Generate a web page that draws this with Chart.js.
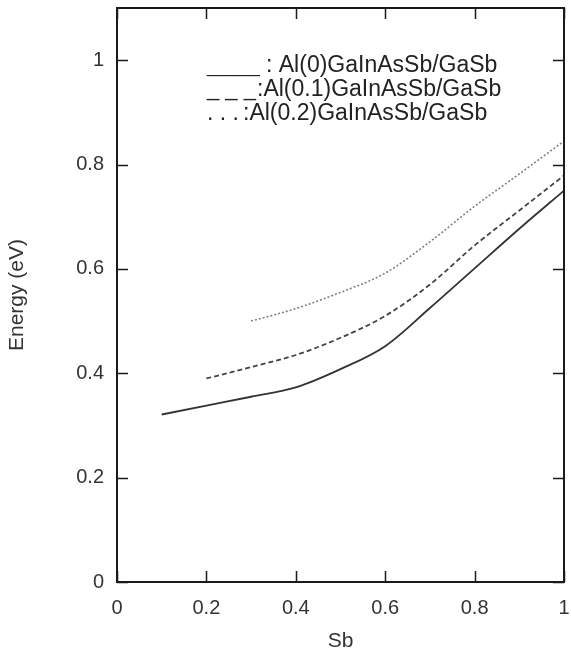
<!DOCTYPE html>
<html>
<head>
<meta charset="utf-8">
<script src="https://cdn.jsdelivr.net/npm/chart.js@4/dist/chart.umd.min.js"></script>
<style>
  html, body { margin: 0; padding: 0; background: #ffffff; }
  #wrap { width: 571px; height: 654px; }
</style>
</head>
<body>
<div id="wrap"><canvas id="c" width="571" height="654"></canvas></div>
<script>
// ---- data ----
const xTicks = [0, 0.2, 0.4, 0.6, 0.8, 1];
const yTicks = [0, 0.2, 0.4, 0.6, 0.8, 1];

const al0X = [0.1, 0.2, 0.3, 0.4, 0.5, 0.6, 0.7, 0.8, 0.9, 1.0];
const al0Y = [0.321, 0.338, 0.355, 0.373, 0.408, 0.452, 0.525, 0.601, 0.677, 0.750];

const al01X = [0.2, 0.3, 0.4, 0.5, 0.6, 0.7, 0.8, 0.9, 1.0];
const al01Y = [0.390, 0.412, 0.435, 0.468, 0.510, 0.570, 0.645, 0.712, 0.779];

const al02X = [0.3, 0.4, 0.5, 0.6, 0.7, 0.8, 0.9, 1.0];
const al02Y = [0.500, 0.524, 0.555, 0.592, 0.652, 0.720, 0.782, 0.845];

const legendMarkers = ["_____", "_ _ _", ". . ."];
const legendNames = [": Al(0)GaInAsSb/GaSb", ":Al(0.1)GaInAsSb/GaSb", ":Al(0.2)GaInAsSb/GaSb"];
const xTitle = "Sb";
const yTitle = "Energy (eV)";

function pts(xs, ys) { return xs.map((x, i) => ({ x: x, y: ys[i] })); }

const FONT = "'Liberation Sans', Arial, Helvetica, sans-serif";

const framePlugin = {
  id: 'frame',
  afterDraw(chart) {
    const ctx = chart.ctx;
    const a = chart.chartArea;
    const xs = chart.scales.x, ys = chart.scales.y;
    const tl = 11;
    ctx.save();
    ctx.strokeStyle = '#1a1a1a';
    ctx.lineWidth = 2;
    ctx.strokeRect(a.left, a.top, a.right - a.left, a.bottom - a.top);
    ctx.lineWidth = 1.5;
    ctx.beginPath();
    xTicks.forEach(v => {
      const px = Math.round(xs.getPixelForValue(v)) + 0.5;
      ctx.moveTo(px, a.bottom); ctx.lineTo(px, a.bottom - tl);
      ctx.moveTo(px, a.top); ctx.lineTo(px, a.top + tl);
    });
    yTicks.forEach(v => {
      const py = Math.round(ys.getPixelForValue(v)) + 0.5;
      ctx.moveTo(a.left, py); ctx.lineTo(a.left + tl, py);
      ctx.moveTo(a.right, py); ctx.lineTo(a.right - tl, py);
    });
    ctx.stroke();
    // legend text (marker glyphs + series names)
    ctx.fillStyle = '#222';
    ctx.textAlign = 'left';
    ctx.textBaseline = 'alphabetic';
    const mx = a.left + 90;
    const markerSizes = [19, 22, 23];
    const nameX = [a.left + 149, a.left + 140, a.left + 126];
    const baselines = [72, 96, 120];
    legendMarkers.forEach((m, i) => {
      ctx.font = markerSizes[i] + 'px ' + FONT;
      ctx.fillText(m, mx, baselines[i]);
      ctx.font = '23px ' + FONT;
      ctx.fillText(legendNames[i], nameX[i], baselines[i]);
    });
    ctx.restore();
  }
};

new Chart(document.getElementById('c'), {
  type: 'line',
  data: {
    datasets: [
      { label: legendMarkers[0] + legendNames[0], data: pts(al0X, al0Y), borderColor: '#333333', borderWidth: 1.8, pointRadius: 0, fill: false, cubicInterpolationMode: 'monotone' },
      { label: legendMarkers[1] + legendNames[1], data: pts(al01X, al01Y), borderColor: '#444444', borderWidth: 1.8, borderDash: [5, 3], pointRadius: 0, fill: false, cubicInterpolationMode: 'monotone' },
      { label: legendMarkers[2] + legendNames[2], data: pts(al02X, al02Y), borderColor: '#808080', borderWidth: 1.6, borderDash: [2, 2], pointRadius: 0, fill: false, cubicInterpolationMode: 'monotone' }
    ]
  },
  options: {
    responsive: false,
    animation: false,
    layout: { padding: { top: 8, right: 7, left: 0, bottom: 0 } },
    plugins: { legend: { display: false }, tooltip: { enabled: false } },
    scales: {
      x: {
        type: 'linear', min: 0, max: 1,
        afterBuildTicks: s => { s.ticks = xTicks.map(v => ({ value: v })); },
        afterFit: s => { s.height = 72; s.paddingLeft = 0; s.paddingRight = 0; },
        grid: { display: false, drawTicks: false },
        border: { display: false },
        ticks: { padding: 14, color: '#333', font: { family: FONT, size: 20 }, callback: v => String(v), maxRotation: 0 },
        title: { display: true, text: xTitle, color: '#333', font: { family: FONT, size: 21 }, padding: { top: 0, bottom: 0 } }
      },
      y: {
        type: 'linear', min: 0, max: 1.1,
        afterBuildTicks: s => { s.ticks = yTicks.map(v => ({ value: v })); },
        afterFit: s => { s.width = 117; s.paddingTop = 0; s.paddingBottom = 0; },
        grid: { display: false, drawTicks: false },
        border: { display: false },
        ticks: { padding: 13, color: '#333', font: { family: FONT, size: 20 }, callback: v => String(v) },
        title: { display: true, text: yTitle, color: '#333', font: { family: FONT, size: 21 }, padding: { top: 5, bottom: 0 } }
      }
    }
  },
  plugins: [framePlugin]
});
</script>
</body>
</html>
